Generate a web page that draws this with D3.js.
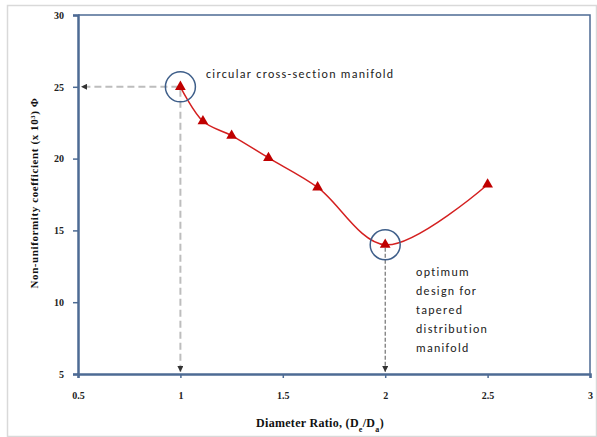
<!DOCTYPE html>
<html><head><meta charset="utf-8">
<script src="https://cdn.jsdelivr.net/npm/d3@7"></script>
<style>body{margin:0;background:#fff}svg{display:block}</style>
</head><body>
<svg id="c" width="597" height="437"></svg>
<script>
const xValues = [1.0, 1.11, 1.25, 1.43, 1.67, 2.0, 2.5];
const yValues = [25.0, 22.6, 21.6, 20.05, 18.0, 14.0, 18.2];
const xTicks = [0.5, 1, 1.5, 2, 2.5, 3];
const yTicks = [5, 10, 15, 20, 25, 30];
const annoText1 = "circular cross-section manifold";
const annoText2 = ["optimum", "design for", "tapered", "distribution", "manifold"];

const svg = d3.select("#c");
const L = 78, R = 590, T = 15, B = 374;
const x = d3.scaleLinear().domain([0.5, 3]).range([L, R]);
const y = d3.scaleLinear().domain([5, 30]).range([B, T]);
const axisCol = "#4d6b94";

// outer border
svg.append("rect").attr("x", 7.5).attr("y", 5.5).attr("width", 589).attr("height", 431)
  .attr("fill", "none").attr("stroke", "#d9d9d9").attr("stroke-width", 1.5);

// frame top/right
svg.append("path").attr("d", `M${L},${T}H${R}V${B}`).attr("fill", "none")
  .attr("stroke", axisCol).attr("stroke-width", 1.5);

const serif = "'Liberation Serif','DejaVu Serif',serif";

const xAxis = svg.append("g").attr("transform", `translate(0,${B})`)
  .call(d3.axisBottom(x).tickValues(xTicks).tickFormat(d3.format("")).tickSize(4).tickPadding(14));
const yAxis = svg.append("g").attr("transform", `translate(${L},0)`)
  .call(d3.axisLeft(y).tickValues(yTicks).tickSize(5).tickPadding(9));
[xAxis, yAxis].forEach(g => {
  g.select(".domain").attr("stroke", axisCol).attr("stroke-width", 2.5);
  g.selectAll(".tick line").attr("stroke", axisCol).attr("stroke-width", 1.5);
  g.selectAll("text").attr("font-family", serif).attr("font-weight", "bold")
    .attr("font-size", 10).attr("fill", "#222");
});

// axis titles
svg.append("text").attr("x", 320).attr("y", 427).attr("text-anchor", "middle")
  .attr("font-family", serif).attr("font-weight", "bold").attr("font-size", 12).attr("fill", "#111")
  .attr("letter-spacing", 0.3)
  .html('Diameter Ratio, (D<tspan baseline-shift="sub" font-size="8">e</tspan>/D<tspan baseline-shift="sub" font-size="8">a</tspan>)');
svg.append("text").attr("transform", "translate(38,193) rotate(-90)").attr("text-anchor", "middle")
  .attr("font-family", serif).attr("font-weight", "bold").attr("font-size", 11).attr("fill", "#111")
  .attr("letter-spacing", 0.6)
  .text("Non-uniformity coefficient (x 10³) Φ");

// markers defs
const defs = svg.append("defs");
function arrow(id, col) {
  defs.append("marker").attr("id", id).attr("viewBox", "0 0 10 10").attr("refX", 10).attr("refY", 5)
    .attr("markerUnits", "userSpaceOnUse")
    .attr("markerWidth", 6).attr("markerHeight", 6).attr("orient", "auto-start-reverse")
    .append("path").attr("d", "M0,0L10,5L0,10z").attr("fill", col);
}
arrow("ag", "#333");
arrow("ak", "#333");

// dashed guide lines
svg.append("line").attr("x1", x(1) - 2).attr("y1", y(25)).attr("x2", L + 3).attr("y2", y(25))
  .attr("stroke", "#bdbdbd").attr("stroke-width", 2).attr("stroke-dasharray", "7,4")
  .attr("marker-end", "url(#ag)");
svg.append("line").attr("x1", x(1)).attr("y1", y(25) + 3).attr("x2", x(1)).attr("y2", B - 2)
  .attr("stroke", "#bdbdbd").attr("stroke-width", 2).attr("stroke-dasharray", "7,4")
  .attr("marker-end", "url(#ag)");
svg.append("line").attr("x1", x(2)).attr("y1", y(14) + 3).attr("x2", x(2)).attr("y2", B - 2)
  .attr("stroke", "#555").attr("stroke-width", 1).attr("stroke-dasharray", "4,2")
  .attr("marker-end", "url(#ak)");

// curve
const pts = xValues.map((d, i) => [d, yValues[i]]);
svg.append("path").datum(pts)
  .attr("d", d3.line().x(d => x(d[0])).y(d => y(d[1])).curve(d3.curveCatmullRom.alpha(0.5)))
  .attr("fill", "none").attr("stroke", "#d42020").attr("stroke-width", 1.5);

// markers
svg.selectAll(".pt").data(pts).enter().append("path")
  .attr("transform", d => `translate(${x(d[0])},${y(d[1])})`)
  .attr("d", d3.symbol(d3.symbolTriangle, 50)())
  .attr("fill", "#c00000");

// circles
[[1, 25], [2, 14]].forEach(c => {
  svg.append("circle").attr("cx", x(c[0])).attr("cy", y(c[1])).attr("r", 15)
    .attr("fill", "none").attr("stroke", "#3f5f8a").attr("stroke-width", 1.5);
});

// annotation texts
const sans = "Carlito,'Open Sans','Liberation Sans',sans-serif";
svg.append("text").attr("x", 206).attr("y", 78).attr("font-family", sans).attr("font-size", 12)
  .attr("fill", "#222").attr("letter-spacing", 1.3).text(annoText1);
svg.append("text").attr("font-family", sans).attr("font-size", 12).attr("fill", "#222")
  .attr("letter-spacing", 1.3)
  .selectAll("tspan").data(annoText2).enter().append("tspan")
  .attr("x", 416).attr("y", (d, i) => 276 + i * 19).text(d => d);
</script>
</body></html>
